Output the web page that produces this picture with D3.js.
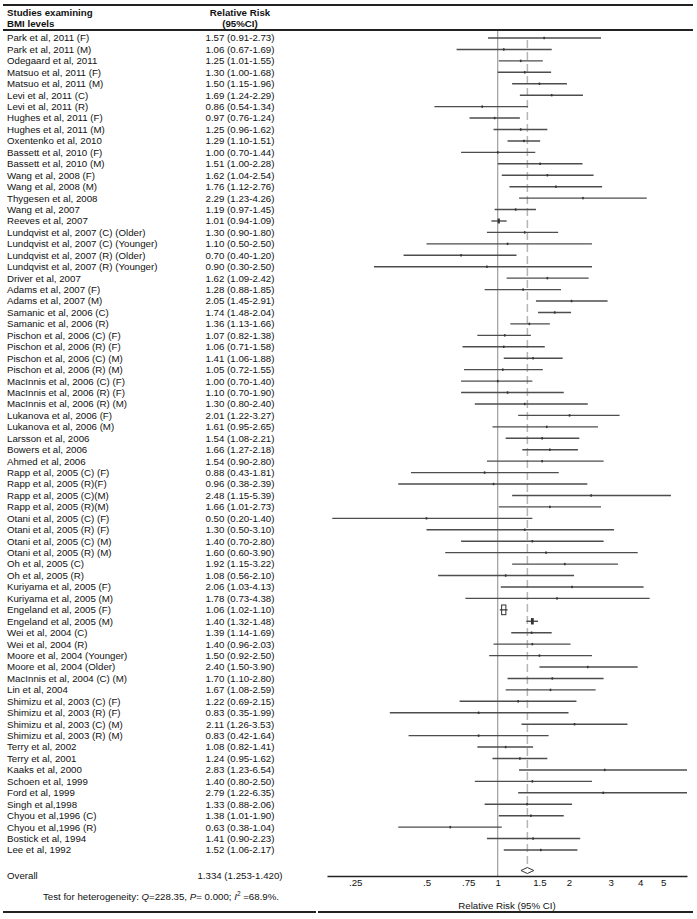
<!DOCTYPE html>
<html>
<head>
<meta charset="utf-8">
<script src="https://cdn.jsdelivr.net/npm/d3@7"></script>
<style>
    body { margin: 0; background: #fff; }
    text { font-family: "Liberation Sans", Arial, sans-serif; fill: #111; }
</style>
</head>
<body>
<div id="forestPlot"></div>
<script>
var studies = [
    "Park et al, 2011 (F)", "Park et al, 2011 (M)", "Odegaard et al, 2011", "Matsuo et al, 2011 (F)",
    "Matsuo et al, 2011 (M)", "Levi et al, 2011 (C)", "Levi et al, 2011 (R)", "Hughes et al, 2011 (F)",
    "Hughes et al, 2011 (M)", "Oxentenko et al, 2010", "Bassett et al, 2010 (F)", "Bassett et al, 2010 (M)",
    "Wang et al, 2008 (F)", "Wang et al, 2008 (M)", "Thygesen et al, 2008", "Wang et al, 2007",
    "Reeves et al, 2007", "Lundqvist et al, 2007 (C) (Older)", "Lundqvist et al, 2007 (C) (Younger)",
    "Lundqvist et al, 2007 (R) (Older)", "Lundqvist et al, 2007 (R) (Younger)", "Driver et al, 2007",
    "Adams et al, 2007 (F)", "Adams et al, 2007 (M)", "Samanic et al, 2006 (C)", "Samanic et al, 2006 (R)",
    "Pischon et al, 2006 (C) (F)", "Pischon et al, 2006 (R) (F)", "Pischon et al, 2006 (C) (M)",
    "Pischon et al, 2006 (R) (M)", "MacInnis et al, 2006 (C) (F)", "MacInnis et al, 2006 (R) (F)",
    "MacInnis et al, 2006 (R) (M)", "Lukanova et al, 2006 (F)", "Lukanova et al, 2006 (M)",
    "Larsson et al, 2006", "Bowers et al, 2006", "Ahmed et al, 2006", "Rapp et al, 2005 (C) (F)",
    "Rapp et al, 2005 (R)(F)", "Rapp et al, 2005 (C)(M)", "Rapp et al, 2005 (R)(M)",
    "Otani et al, 2005 (C) (F)", "Otani et al, 2005 (R) (F)", "Otani et al, 2005 (C) (M)",
    "Otani et al, 2005 (R) (M)", "Oh et al, 2005 (C)", "Oh et al, 2005 (R)", "Kuriyama et al, 2005 (F)",
    "Kuriyama et al, 2005 (M)", "Engeland et al, 2005 (F)", "Engeland et al, 2005 (M)",
    "Wei et al, 2004 (C)", "Wei et al, 2004 (R)", "Moore et al, 2004 (Younger)", "Moore et al, 2004 (Older)",
    "MacInnis et al, 2004 (C) (M)", "Lin et al, 2004", "Shimizu et al, 2003 (C) (F)",
    "Shimizu et al, 2003 (R) (F)", "Shimizu et al, 2003 (C) (M)", "Shimizu et al, 2003 (R) (M)",
    "Terry et al, 2002", "Terry et al, 2001", "Kaaks et al, 2000", "Schoen et al, 1999", "Ford et al, 1999",
    "Singh et al,1998", "Chyou et al,1996 (C)", "Chyou et al,1996 (R)", "Bostick et al, 1994", "Lee et al, 1992"
];

var rr = [
    1.57, 1.06, 1.25, 1.30, 1.50, 1.69, 0.86, 0.97, 1.25, 1.29, 1.00, 1.51, 1.62, 1.76, 2.29, 1.19,
    1.01, 1.30, 1.10, 0.70, 0.90, 1.62, 1.28, 2.05, 1.74, 1.36, 1.07, 1.06, 1.41, 1.05, 1.00, 1.10,
    1.30, 2.01, 1.61, 1.54, 1.66, 1.54, 0.88, 0.96, 2.48, 1.66, 0.50, 1.30, 1.40, 1.60, 1.92, 1.08,
    2.06, 1.78, 1.06, 1.40, 1.39, 1.40, 1.50, 2.40, 1.70, 1.67, 1.22, 0.83, 2.11, 0.83, 1.08, 1.24,
    2.83, 1.40, 2.79, 1.33, 1.38, 0.63, 1.41, 1.52
];

var lower = [
    0.91, 0.67, 1.01, 1.00, 1.15, 1.24, 0.54, 0.76, 0.96, 1.10, 0.70, 1.00, 1.04, 1.12, 1.23, 0.97,
    0.94, 0.90, 0.50, 0.40, 0.30, 1.09, 0.88, 1.45, 1.48, 1.13, 0.82, 0.71, 1.06, 0.72, 0.70, 0.70,
    0.80, 1.22, 0.95, 1.08, 1.27, 0.90, 0.43, 0.38, 1.15, 1.01, 0.20, 0.50, 0.70, 0.60, 1.15, 0.56,
    1.03, 0.73, 1.02, 1.32, 1.14, 0.96, 0.92, 1.50, 1.10, 1.08, 0.69, 0.35, 1.26, 0.42, 0.82, 0.95,
    1.23, 0.80, 1.22, 0.88, 1.01, 0.38, 0.90, 1.06
];

var upper = [
    2.73, 1.69, 1.55, 1.68, 1.96, 2.29, 1.34, 1.24, 1.62, 1.51, 1.44, 2.28, 2.54, 2.76, 4.26, 1.45,
    1.09, 1.80, 2.50, 1.20, 2.50, 2.42, 1.85, 2.91, 2.04, 1.66, 1.38, 1.58, 1.88, 1.55, 1.40, 1.90,
    2.40, 3.27, 2.65, 2.21, 2.18, 2.80, 1.81, 2.39, 5.39, 2.73, 1.40, 3.10, 2.80, 3.90, 3.22, 2.10,
    4.13, 4.38, 1.10, 1.48, 1.69, 2.03, 2.50, 3.90, 2.80, 2.59, 2.15, 1.99, 3.53, 1.64, 1.41, 1.62,
    6.54, 2.50, 6.35, 2.06, 1.90, 1.04, 2.23, 2.17
];

var overallRR = 1.334;
var overallLower = 1.253;
var overallUpper = 1.420;

var tickValues = [0.25, 0.5, 0.75, 1, 1.5, 2, 3, 4, 5];
var tickLabels = [".25", ".5", ".75", "1", "1.5", "2", "3", "4", "5"];

function fmt(v) { return v.toFixed(2); }

function forestPlot() {
    var w = 697;
    var h = 919;
    var axisY = 876;                                                    //y of the x axis line

    var svg = d3.select("#forestPlot")
                .append("svg")
                .attr("width", w)
                .attr("height", h);

    var xScale = d3.scaleLog()
                .domain([0.19, 6.3])                                    //visible range of the plot
                .range([327, 687]);

    var yScale = d3.scalePoint()
                .domain(d3.range(studies.length))
                .range([38, 850]);

    var fs = "9.7px";

    // frame lines
    svg.append("line").attr("x1", 3).attr("x2", 693).attr("y1", 5).attr("y2", 5)
        .attr("stroke", "#222").attr("stroke-width", 2);
    svg.append("line").attr("x1", 3).attr("x2", 693).attr("y1", 30).attr("y2", 30)
        .attr("stroke", "#222").attr("stroke-width", 2);
    svg.append("line").attr("x1", 3).attr("x2", 316).attr("y1", 912).attr("y2", 912)
        .attr("stroke", "#222").attr("stroke-width", 2);
    svg.append("line").attr("x1", 318).attr("x2", 693).attr("y1", 912).attr("y2", 912)
        .attr("stroke", "#222").attr("stroke-width", 2);

    // headers
    var head = svg.append("g").attr("font-size", fs).attr("font-weight", "bold");
    head.append("text").attr("x", 7).attr("y", 15.5).text("Studies examining");
    head.append("text").attr("x", 7).attr("y", 27).text("BMI levels");
    head.append("text").attr("x", 240).attr("y", 15.5).attr("text-anchor", "middle").text("Relative Risk");
    head.append("text").attr("x", 240).attr("y", 27).attr("text-anchor", "middle").text("(95%CI)");

    // reference lines
    svg.append("line")
        .attr("x1", xScale(1)).attr("x2", xScale(1))
        .attr("y1", 31).attr("y2", axisY)
        .attr("stroke", "#8a8a8a").attr("stroke-width", 1);

    svg.append("line")
        .attr("x1", xScale(overallRR)).attr("x2", xScale(overallRR))
        .attr("y1", 40).attr("y2", 868)
        .attr("stroke", "#b5b5b5").attr("stroke-width", 1.5)
        .attr("stroke-dasharray", "8,4");

    // study rows
    var rows = svg.append("g")
        .selectAll("g")
        .data(studies)
        .enter()
        .append("g")
        .attr("transform", function(d, i) { return "translate(0," + yScale(i) + ")"; });

    rows.append("text")
        .attr("x", 7).attr("dy", "0.35em")
        .attr("font-size", fs)
        .text(function(d) { return d; });

    rows.append("text")
        .attr("x", 240).attr("dy", "0.35em")
        .attr("text-anchor", "middle")
        .attr("font-size", fs)
        .text(function(d, i) { return fmt(rr[i]) + " (" + fmt(lower[i]) + "-" + fmt(upper[i]) + ")"; });

    var lo = xScale.domain()[0], hi = xScale.domain()[1];

    rows.append("line")
        .attr("x1", function(d, i) { return xScale(Math.max(lower[i], lo)); })
        .attr("x2", function(d, i) { return xScale(Math.min(upper[i], hi)); })
        .attr("stroke", "#4d4d4d").attr("stroke-width", 1.4);

    // weight boxes sized by inverse variance (tall and narrow like the original)
    function boxSide(i) {
        var se = (Math.log(upper[i]) - Math.log(lower[i])) / 3.92;
        return 0.17 * Math.sqrt(1 / (se * se));
    }

    rows.append("rect")
        .attr("x", function(d, i) { return xScale(rr[i]) - Math.max(boxSide(i) * 0.24, 0.8); })
        .attr("y", function(d, i) { return -Math.max(boxSide(i) * 0.55, 1.2); })
        .attr("width", function(d, i) { return Math.max(boxSide(i) * 0.48, 1.6); })
        .attr("height", function(d, i) { return Math.max(boxSide(i) * 1.1, 2.4); })
        .attr("fill", function(d, i) { return boxSide(i) > 7 ? "none" : "#333"; })
        .attr("stroke", "#333").attr("stroke-width", function(d, i) { return boxSide(i) > 7 ? 1 : 0; });

    // overall
    svg.append("text").attr("x", 7).attr("y", 876).attr("dy", "0.35em")
        .attr("font-size", fs).text("Overall");
    svg.append("text").attr("x", 240).attr("y", 876).attr("dy", "0.35em")
        .attr("text-anchor", "middle").attr("font-size", fs)
        .text(overallRR.toFixed(3) + " (" + overallLower.toFixed(3) + "-" + overallUpper.toFixed(3) + ")");

    var dy = 870.5;
    svg.append("path")
        .attr("d", "M" + xScale(overallLower) + "," + dy +
                   "L" + xScale(overallRR) + "," + (dy - 3) +
                   "L" + xScale(overallUpper) + "," + dy +
                   "L" + xScale(overallRR) + "," + (dy + 3) + "Z")
        .attr("fill", "#fff").attr("stroke", "#333").attr("stroke-width", 1);

    // heterogeneity line
    var het = svg.append("text").attr("x", 161).attr("y", 899.5)
        .attr("text-anchor", "middle").attr("font-size", fs);
    het.append("tspan").text("Test for heterogeneity: ");
    het.append("tspan").attr("font-style", "italic").text("Q");
    het.append("tspan").text("=228.35, ");
    het.append("tspan").attr("font-style", "italic").text("P");
    het.append("tspan").text("= 0.000; ");
    het.append("tspan").attr("font-style", "italic").text("I");
    het.append("tspan").attr("font-size", "6.5px").attr("dy", "-4").text("2");
    het.append("tspan").attr("dy", "4").text(" =68.9%.");

    // x axis
    var xAxis = d3.axisBottom()
                    .scale(xScale)
                    .tickValues(tickValues)
                    .tickFormat(function(d, i) { return tickLabels[i]; })
                    .tickSizeInner(0)
                    .tickSizeOuter(0)
                    .tickPadding(3);

    var gx = svg.append("g")
        .attr("transform", "translate(0," + axisY + ")")
        .call(xAxis);
    gx.select(".domain").attr("stroke", "#222").attr("stroke-width", 1.5);
    gx.selectAll("text").attr("font-size", fs).attr("font-family", "Liberation Sans, Arial, sans-serif").attr("fill", "#111");

    svg.append("text")
        .attr("x", 507).attr("y", 909)
        .attr("text-anchor", "middle").attr("font-size", fs)
        .text("Relative Risk (95% CI)");
}

forestPlot();
</script>
</body>
</html>
